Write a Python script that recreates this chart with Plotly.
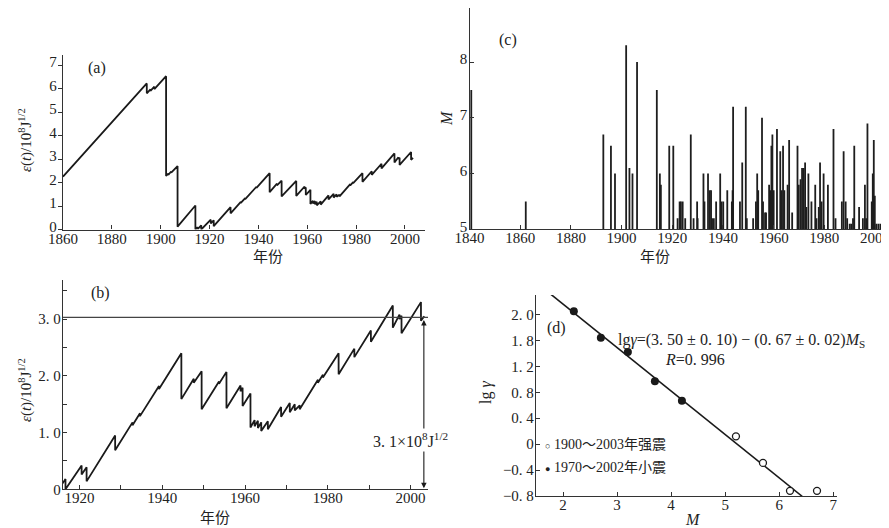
import plotly.graph_objects as go

# page body has an 8px margin, so the figure is drawn 8px in from the top-left
OFF = 8
W, H = 889 - OFF, 528 - OFF

# ---------------- data ----------------
# Benioff strain curve (panels a and b): vertices (year, value in 1e8 J^1/2)
eps_years = [1860.0, 1894.3, 1894.3, 1895.8, 1895.8, 1897.4, 1897.4, 1902.2, 1902.2,
             1903.1, 1903.1, 1904.3, 1904.3, 1906.9, 1906.9, 1914.2, 1914.2,
             1915.1, 1915.1, 1916.6, 1916.6, 1920.5, 1920.5, 1921.7, 1921.7,
             1928.6, 1928.6, 1932.8, 1932.8, 1934.6, 1934.6, 1939.2, 1939.2,
             1944.6, 1944.6, 1947.6, 1947.6, 1949.5, 1949.5, 1953.7, 1953.7,
             1955.5, 1955.5, 1958.9, 1958.9, 1959.4, 1959.4, 1961.3, 1961.3,
             1962.3, 1962.3, 1963.1, 1963.1, 1963.9, 1963.9, 1965.5, 1965.5,
             1968.7, 1968.7, 1970.8, 1970.8, 1972.0, 1972.0, 1973.2, 1973.2,
             1977.6, 1977.6, 1978.8, 1978.8, 1982.6, 1982.6, 1986.4, 1986.4,
             1990.4, 1990.4, 1995.7, 1995.7, 1997.3, 1997.3, 1997.8, 1997.8,
             2002.5, 2002.5, 2003.3]
eps_vals = [2.25, 6.22, 5.80, 5.97, 5.90, 6.08, 5.98, 6.53, 2.28,
            2.38, 2.33, 2.47, 2.42, 2.70, 0.12, 1.02, 0.00,
            0.10, 0.02, 0.18, 0.00, 0.42, 0.26, 0.39, 0.14,
            0.95, 0.69, 1.18, 1.13, 1.34, 1.29, 1.82, 1.77,
            2.40, 1.59, 1.95, 1.88, 2.08, 1.41, 1.90, 1.86,
            2.07, 1.43, 1.83, 1.73, 1.79, 1.47, 1.69, 1.09,
            1.22, 1.11, 1.21, 1.08, 1.18, 1.03, 1.20, 1.06,
            1.45, 1.28, 1.52, 1.36, 1.50, 1.39, 1.48, 1.41,
            1.93, 1.88, 2.02, 1.97, 2.40, 2.03, 2.48, 2.33,
            2.80, 2.60, 3.24, 2.85, 3.08, 3.00, 3.06, 2.75,
            3.30, 2.97, 3.05]

eps_threshold = 3.03       # horizontal line in (b)
eps_threshold_year = 2003.2

# Earthquakes M>=5 (panel c)
quake_years = [1840.7, 1862.2, 1892.8, 1895.8, 1897.4, 1901.8, 1903.1, 1904.3, 1906.1,
               1913.9, 1915.1, 1915.5, 1918.8, 1920.4, 1922.1, 1922.9, 1923.4, 1924.1,
               1925.1, 1927.3, 1928.4, 1929.8, 1930.0, 1932.3, 1932.7, 1934.1, 1934.8,
               1935.3, 1935.7, 1936.4, 1937.3, 1938.9, 1939.4, 1940.1, 1941.7, 1943.5,
               1943.8, 1944.0, 1946.7, 1947.6, 1949.0, 1949.4, 1951.9, 1953.0, 1953.5,
               1953.9, 1955.4, 1955.8, 1956.6, 1957.0, 1958.2, 1958.7, 1959.1, 1959.5,
               1960.0, 1961.3, 1962.6, 1963.2, 1963.7, 1964.2, 1965.5, 1966.1, 1967.3,
               1969.4, 1969.9, 1970.6, 1971.2, 1971.8, 1972.4, 1972.9, 1973.7, 1974.9,
               1976.4, 1976.9, 1977.8, 1978.3, 1978.9, 1979.7, 1981.4, 1983.6, 1984.4,
               1986.9, 1987.6, 1988.4, 1989.0, 1990.0, 1990.6, 1991.3, 1991.8, 1993.7,
               1995.2, 1996.0, 1996.5, 1997.0, 1998.7, 1999.1, 1999.5, 1999.9, 2000.5,
               2001.3, 2002.1, 2003.8, 2004.1]
quake_mags = [7.5, 5.5, 6.7, 6.5, 6.0, 8.3, 6.1, 6.0, 8.0,
              7.5, 6.0, 5.8, 6.5, 6.5, 5.2, 5.5, 5.5, 5.5,
              5.2, 6.7, 5.2, 5.5, 5.2, 6.0, 5.5, 6.0, 5.7,
              5.7, 5.2, 5.2, 5.5, 6.0, 5.5, 5.5, 5.7, 5.5,
              5.7, 7.2, 5.5, 6.2, 7.2, 5.2, 5.2, 5.5, 6.0,
              5.7, 7.0, 5.5, 5.3, 5.3, 5.8, 5.7, 6.5, 6.7,
              5.7, 6.8, 6.4, 5.7, 6.5, 5.7, 5.8, 6.6, 5.3,
              6.5, 5.8, 5.9, 6.1, 6.1, 6.2, 5.4, 6.0, 5.5,
              5.8, 5.2, 5.4, 6.2, 5.5, 6.0, 5.8, 6.8, 5.2,
              5.5, 6.4, 5.5, 5.2, 5.1, 5.1, 5.2, 6.5, 5.4,
              5.2, 5.8, 5.2, 6.9, 5.5, 6.0, 6.6, 5.6, 5.1,
              5.1, 5.1, 5.7, 6.8]
mag_base = 5.0

# Panel d: frequency-magnitude
strong_M = [5.2, 5.7, 6.2, 6.7]
strong_lg = [0.12, -0.29, -0.72, -0.72]
small_M = [2.2, 2.7, 3.2, 3.7, 4.2]
small_lg = [2.05, 1.64, 1.42, 0.97, 0.67]
fit_a, fit_b = 3.50, -0.67
fit_M_ends = [1.77, 6.43]

# tick labels
a_xticks = [1860, 1880, 1900, 1920, 1940, 1960, 1980, 2000]
c_xticks = [1840, 1860, 1880, 1900, 1920, 1940, 1960, 1980, 2000]
d_yticks = [-0.8, -0.4, 0.0, 0.4, 0.8, 1.2, 1.6, 2.0]
d_yticklabels = ["−0. 8", "−0. 4", "0", "0. 4", "0. 8", "1. 2", "1. 8", "2. 0"]
b_yticks = [0, 1, 2, 3]
b_yticklabels = ["0", "1. 0", "2. 0", "3. 0"]
b_yminor = [0.5, 1.5, 2.5, 3.5]
b_xticks = [1920, 1940, 1960, 1980, 2000]
b_xminor = [1930, 1950, 1970, 1990]

# ---------------- figure ----------------
def px(x):
    return (x - OFF) / W

def py(y):
    return 1 - (y - OFF) / H

FONT = "Liberation Serif, Noto Sans CJK SC, serif"
INK = "#1a1a1a"

fig = go.Figure()

# (a)
fig.add_trace(go.Scatter(x=eps_years, y=eps_vals, mode="lines",
                         line=dict(color=INK, width=1.8), xaxis="x", yaxis="y",
                         showlegend=False))
# (c) vertical bars built from data
bx, by = [], []
for yr, m in zip(quake_years, quake_mags):
    bx += [yr, yr, None]
    by += [mag_base, m, None]
fig.add_trace(go.Scatter(x=bx, y=by, mode="lines", line=dict(color="#1e1e1e", width=1.8),
                         xaxis="x2", yaxis="y2", showlegend=False))
# (b)
fig.add_trace(go.Scatter(x=eps_years, y=eps_vals, mode="lines",
                         line=dict(color=INK, width=1.8), xaxis="x3", yaxis="y3",
                         showlegend=False))
# (d)
fig.add_trace(go.Scatter(x=fit_M_ends, y=[fit_a + fit_b * m for m in fit_M_ends],
                         mode="lines", line=dict(color=INK, width=1.6),
                         xaxis="x4", yaxis="y4", showlegend=False))
fig.add_trace(go.Scatter(x=small_M, y=small_lg, mode="markers",
                         marker=dict(color=INK, size=8), name="1970～2002年小震",
                         xaxis="x4", yaxis="y4", showlegend=False))
fig.add_trace(go.Scatter(x=strong_M, y=strong_lg, mode="markers",
                         marker=dict(color="white", size=7, line=dict(color=INK, width=1.3)),
                         name="1900～2003年强震", xaxis="x4", yaxis="y4", showlegend=False))

axis_common = dict(showline=True, linecolor="#333", linewidth=1.3, showgrid=False,
                   zeroline=False, tickcolor="#333", ticklen=4, automargin=False,
                   ticklabeloverflow="allow",
                   tickfont=dict(family=FONT, size=15, color="#222"))
xax = dict(axis_common, ticklabelstandoff=-5)
yax = dict(axis_common, ticklabelstandoff=-2)
minor_in = dict(ticks="inside", ticklen=4, tickcolor="#333", showgrid=False)

fig.update_layout(
    template="none",
    width=W, height=H, margin=dict(l=0, r=0, t=0, b=0, pad=0, autoexpand=False),
    paper_bgcolor="white", plot_bgcolor="white",
    font=dict(family=FONT, size=15, color="#222"),
    xaxis=dict(xax, domain=[px(63), px(425)], range=[1860, 2008.2],
               tickvals=a_xticks, ticks="inside", anchor="y"),
    yaxis=dict(yax, domain=[py(229.5), py(55)], range=[0, 7.43],
               tickvals=list(range(0, 8)), ticks="outside", anchor="x", ticklabelshift=-3),
    xaxis2=dict(xax, domain=[px(469.5), 1.0], range=[1840, 2005.5],
                tickvals=c_xticks, ticks="inside", anchor="y2"),
    yaxis2=dict(yax, domain=[py(229.3), py(8)], range=[5, 8.97],
                tickvals=[5, 6, 7, 8], ticks="inside", anchor="x2", ticklabelshift=-3),
    xaxis3=dict(xax, domain=[px(63), px(428)], range=[1916, 2004.2],
                tickvals=b_xticks, ticks="inside", anchor="y3",
                minor=dict(minor_in, tickvals=b_xminor)),
    yaxis3=dict(yax, domain=[py(489.3), py(280)], range=[0, 3.69],
                tickvals=b_yticks, ticktext=b_yticklabels, ticks="inside", anchor="x3",
                minor=dict(minor_in, tickvals=b_yminor)),
    xaxis4=dict(xax, domain=[px(536), px(837)], range=[1.5, 7.07],
                tickvals=[2, 3, 4, 5, 6, 7], ticks="inside", anchor="y4"),
    yaxis4=dict(yax, domain=[py(496), py(295)], range=[-0.8, 2.30],
                tickvals=d_yticks, ticktext=d_yticklabels, ticks="inside", anchor="x4"),
)

# threshold line in (b)
fig.add_shape(type="line", xref="x3", yref="y3", x0=1916, x1=2004.2,
              y0=eps_threshold, y1=eps_threshold, line=dict(color="#444", width=1.3))

ann = []
def note(text, x, y, size=15, xanchor="center", yanchor="middle", angle=0, **kw):
    ann.append(dict(text=text, x=px(x), y=py(y), xref="paper", yref="paper",
                    showarrow=False, xanchor=xanchor, yanchor=yanchor, textangle=angle,
                    font=dict(family=FONT, size=size, color="#222"), **kw))

# arrow (double-headed)
ann.append(dict(x=eps_threshold_year, y=0.02, ax=eps_threshold_year, ay=eps_threshold - 0.02,
                xref="x3", yref="y3", axref="x3", ayref="y3", text="", showarrow=True,
                arrowhead=2, startarrowhead=2, arrowside="end+start", arrowsize=1,
                arrowwidth=1.1, arrowcolor=INK))

note("(a)", 97, 68, size=16)
note("(c)", 508, 40, size=16)
note("(b)", 100, 293, size=16)
note("(d)", 556, 328, size=16)
note("<i>ε</i>(<i>t</i>)/10<sup>8</sup>J<sup>1/2</sup>", 25, 140, size=15, angle=-90)
note("<i>ε</i>(<i>t</i>)/10<sup>8</sup>J<sup>1/2</sup>", 25, 390, size=15, angle=-90)
note("<i>M</i>", 446, 118, size=16, angle=-90)
note("lg <i>γ</i>", 486, 393, size=16, angle=-90)
note("年份", 268, 257, size=15)
note("年份", 655, 257, size=15)
note("年份", 215, 518, size=15)
note("<i>M</i>", 693, 519, size=16)
note("3. 1×10<sup>8</sup>J<sup>1/2</sup>", 410, 440, size=16, bgcolor="white")
note("lg<i>γ</i>=(3. 50 ± 0. 10) − (0. 67 ± 0. 02)<i>M</i><sub>S</sub>", 616, 340, size=16,
     xanchor="left")
note("<i>R</i>=0. 996", 663, 359, size=16, xanchor="left")
note("<span style='font-size:9px'>○</span> 1900～2003年强震", 543, 444, size=14, xanchor="left")
note("<span style='font-size:9px'>●</span> 1970～2002年小震", 543, 467, size=14, xanchor="left")

fig.update_layout(annotations=ann)

fig.write_html("out.html")
